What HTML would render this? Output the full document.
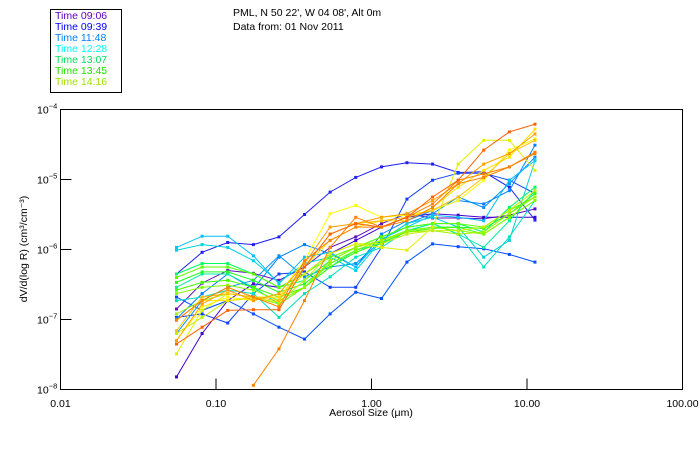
<!DOCTYPE html>
<html><head><meta charset="utf-8"><style>
body{margin:0;background:#fff;}
svg{display:block;font-family:"Liberation Sans",sans-serif;}
</style></head><body>
<svg id="chart" width="700" height="450">
<rect x="0" y="0" width="700" height="450" fill="#fff"/>
<g>
<rect x="50.5" y="9.5" width="71" height="83" fill="none" stroke="#000" stroke-width="1"/>
<text x="55" y="19" font-size="10.5" fill="#6000c0">Time 09:06</text>
<text x="55" y="30" font-size="10.5" fill="#0000ff">Time 09:39</text>
<text x="55" y="41" font-size="10.5" fill="#0080ff">Time 11:48</text>
<text x="55" y="52" font-size="10.5" fill="#00ffff">Time 12:28</text>
<text x="55" y="63" font-size="10.5" fill="#00e060">Time 13:07</text>
<text x="55" y="74" font-size="10.5" fill="#20e000">Time 13:45</text>
<text x="55" y="85" font-size="10.5" fill="#a0e000">Time 14:16</text>
</g>
<text x="233" y="16" font-size="10.5">PML, N 50 22', W 04 08', Alt 0m</text>
<text x="233" y="30" font-size="10.5">Data from: 01 Nov 2011</text>
<text transform="translate(27,249) rotate(-90)" text-anchor="middle" font-size="10.5">dV/d(log R) (cm³/cm⁻³)</text>
<text x="371" y="416" text-anchor="middle" font-size="10.5">Aerosol Size (μm)</text>
<g id="axes"></g>
<g id="series"></g>
<rect x="60.5" y="109.5" width="622" height="280" fill="none" stroke="#000" stroke-width="1"/>
</svg>
<script>
const xTickValues=[0.01,0.1,1,10,100];
const xTickLabels=["0.01","0.10","1.00","10.00","100.00"];
const yTickExponents=[-4,-5,-6,-7,-8];
const sizeBins=[0.0557,0.0814,0.119,0.174,0.254,0.371,0.542,0.792,1.16,1.69,2.47,3.61,5.27,7.70,11.25];
const seriesColors=["#6010c0","#4000d0","#2020f0","#1040ff","#0050ff","#0080ff","#0090ff","#00c0ff","#00d0e0","#00e0c0","#00f0a0","#00ff60","#20ff20","#40ff00","#60ff00","#80ff00","#a0f000","#c0f000","#e0f000","#ffff00","#ffe000","#ffc000","#ffa000","#ff8000","#ff6000","#ff8000"];
// log10 of dV/dlogR
const seriesLogValues=[
[-6.85,-6.48,-6.30,-6.34,-6.44,-6.25,-5.97,-5.82,-5.63,-5.49,-5.55,-5.55,-5.56,-5.51,-5.42],
[-7.82,-7.20,-6.73,-6.49,-6.54,-6.35,-6.06,-5.87,-5.68,-5.54,-5.49,-5.51,-5.54,-5.54,-5.54],
[-6.35,-6.04,-5.90,-5.93,-5.82,-5.50,-5.18,-4.97,-4.82,-4.76,-4.78,-4.90,-4.89,-5.11,-5.58],
[-6.97,-6.92,-7.05,-6.63,-6.35,-6.32,-6.54,-6.54,-5.97,-5.28,-5.01,-4.91,-4.91,-5.01,-5.20],
[-6.68,-6.87,-6.73,-6.92,-7.11,-7.28,-6.92,-6.61,-6.70,-6.18,-5.92,-5.96,-5.99,-6.07,-6.18],
[-6.99,-6.63,-6.35,-6.56,-6.11,-5.93,-6.06,-6.25,-5.78,-5.59,-5.44,-5.30,-5.35,-5.16,-4.51],
[-7.20,-6.73,-6.54,-6.44,-6.09,-6.39,-6.25,-6.20,-5.87,-5.63,-5.49,-5.25,-5.40,-5.06,-4.68],
[-5.97,-5.81,-5.81,-6.09,-6.49,-6.11,-6.04,-6.25,-5.85,-5.68,-5.51,-5.54,-5.59,-5.01,-4.73],
[-6.01,-5.93,-5.97,-6.16,-6.47,-6.20,-6.11,-6.30,-5.87,-5.63,-5.54,-5.68,-6.11,-5.87,-4.73],
[-6.73,-6.68,-6.58,-6.63,-6.97,-6.63,-6.39,-6.11,-5.97,-5.73,-5.63,-5.78,-6.25,-5.82,-5.30],
[-6.54,-6.35,-6.35,-6.54,-6.78,-6.54,-6.25,-6.01,-5.92,-5.73,-5.63,-5.78,-5.97,-5.59,-5.16],
[-6.35,-6.20,-6.20,-6.35,-6.54,-6.44,-6.16,-5.97,-5.82,-5.68,-5.63,-5.63,-5.75,-5.40,-5.11],
[-6.47,-6.32,-6.32,-6.44,-6.61,-6.49,-6.20,-6.01,-5.87,-5.73,-5.68,-5.68,-5.70,-5.49,-5.20],
[-6.58,-6.47,-6.44,-6.54,-6.68,-6.54,-6.25,-6.04,-5.90,-5.75,-5.70,-5.68,-5.78,-5.54,-5.30],
[-6.40,-6.25,-6.25,-6.35,-6.54,-6.35,-6.11,-5.97,-5.82,-5.68,-5.63,-5.63,-5.68,-5.44,-5.25],
[-6.63,-6.54,-6.51,-6.58,-6.73,-6.54,-6.20,-6.01,-5.87,-5.73,-5.68,-5.73,-5.78,-5.54,-5.30],
[-6.92,-6.73,-6.63,-6.68,-6.78,-6.54,-6.16,-5.97,-5.87,-5.75,-5.73,-5.78,-5.75,-5.49,-5.25],
[-7.20,-6.97,-6.73,-6.70,-6.75,-6.44,-6.06,-5.92,-5.92,-5.78,-5.73,-5.73,-5.68,-5.44,-5.16],
[-7.49,-6.87,-6.63,-6.68,-6.68,-6.35,-6.06,-5.92,-5.97,-6.01,-5.68,-4.78,-4.44,-4.44,-4.87],
[-7.30,-6.82,-6.68,-6.73,-6.63,-6.16,-5.49,-5.37,-5.54,-5.51,-5.44,-5.30,-5.01,-4.58,-4.42],
[-7.01,-6.73,-6.73,-6.68,-6.68,-6.25,-5.87,-5.68,-5.59,-5.59,-5.40,-5.11,-4.87,-4.68,-4.28],
[-7.16,-6.68,-6.63,-6.68,-6.73,-6.25,-5.78,-5.63,-5.59,-5.54,-5.44,-5.25,-4.97,-4.63,-4.44],
[-7.30,-6.78,-6.58,-6.73,-6.63,-6.20,-5.68,-5.63,-5.54,-5.49,-5.30,-5.06,-4.78,-4.63,-4.35],
[null,null,null,-7.94,-7.42,-6.73,-5.97,-5.54,-5.68,-5.54,-5.35,-5.01,-4.92,-4.82,-4.63],
[-7.35,-7.11,-6.87,-6.86,-6.86,-6.25,-5.78,-5.63,-5.68,-5.54,-5.25,-5.01,-4.58,-4.32,-4.21],
[-7.01,-6.73,-6.54,-6.68,-6.82,-6.16,-5.87,-5.68,-5.68,-5.59,-5.40,-5.06,-4.97,-4.82,-4.61]
];
const L=60.5,R=682.5,T=109.5,B=389.5;
function xs(v){return L+(Math.log10(v)+2)/4*(R-L);}
function ys(lg){return T+(-4-lg)/4*(B-T);}
const NS="http://www.w3.org/2000/svg";
const axes=document.getElementById('axes');
xTickValues.forEach((v,i)=>{
 const x=xs(v);
 if(i>0&&i<xTickValues.length-1){
  const t=document.createElementNS(NS,'line');
  t.setAttribute('x1',x);t.setAttribute('x2',x);t.setAttribute('y1',B);t.setAttribute('y2',B-11);
  t.setAttribute('stroke','#000');
  
  
  axes.appendChild(t);
 }
 const tx=document.createElementNS(NS,'text');
 tx.setAttribute('x',x);tx.setAttribute('y',407);tx.setAttribute('text-anchor','middle');tx.setAttribute('font-size','10.5');
 tx.textContent=xTickLabels[i];
 
 
 axes.appendChild(tx);
});
yTickExponents.forEach((e,i)=>{
 const y=ys(e);
 if(i>0&&i<yTickExponents.length-1){
  const t=document.createElementNS(NS,'line');
  t.setAttribute('x1',L);t.setAttribute('x2',L+11);t.setAttribute('y1',y);t.setAttribute('y2',y);
  t.setAttribute('stroke','#000');
  
  
  axes.appendChild(t);
 }
 const tx=document.createElementNS(NS,'text');
 tx.setAttribute('x',37);tx.setAttribute('y',y+4);tx.setAttribute('font-size','10.5');
 tx.innerHTML='10<tspan dy="-5" font-size="7.5">'+(e<0?'−':'')+Math.abs(e)+'</tspan>';
 
 
 axes.appendChild(tx);
});
const sg=document.getElementById('series');
seriesLogValues.forEach((vals,si)=>{
 const g=document.createElementNS(NS,'g');
 
 
 const pts=[];
 vals.forEach((v,k)=>{ if(v!==null) pts.push([xs(sizeBins[k]),ys(v)]); });
 const pl=document.createElementNS(NS,'polyline');
 pl.setAttribute('points',pts.map(p=>p[0].toFixed(1)+','+p[1].toFixed(1)).join(' '));
 pl.setAttribute('fill','none');pl.setAttribute('stroke',seriesColors[si]);pl.setAttribute('stroke-width','1');
 pl.setAttribute('clip-path','url(#clip)');
 g.appendChild(pl);
 pts.forEach(p=>{
  if(p[1]>B) return;
  const r=document.createElementNS(NS,'rect');
  r.setAttribute('x',p[0]-1.5);r.setAttribute('y',p[1]-1.5);r.setAttribute('width',3);r.setAttribute('height',3);
  r.setAttribute('fill',seriesColors[si]);
  
  
  g.appendChild(r);
 });
 sg.appendChild(g);
});
const defs=document.createElementNS(NS,'defs');
defs.innerHTML='<clipPath id="clip"><rect x="60" y="109" width="623" height="281"/></clipPath>';
document.getElementById('chart').insertBefore(defs,document.getElementById('chart').firstChild);
</script>
</body></html>
